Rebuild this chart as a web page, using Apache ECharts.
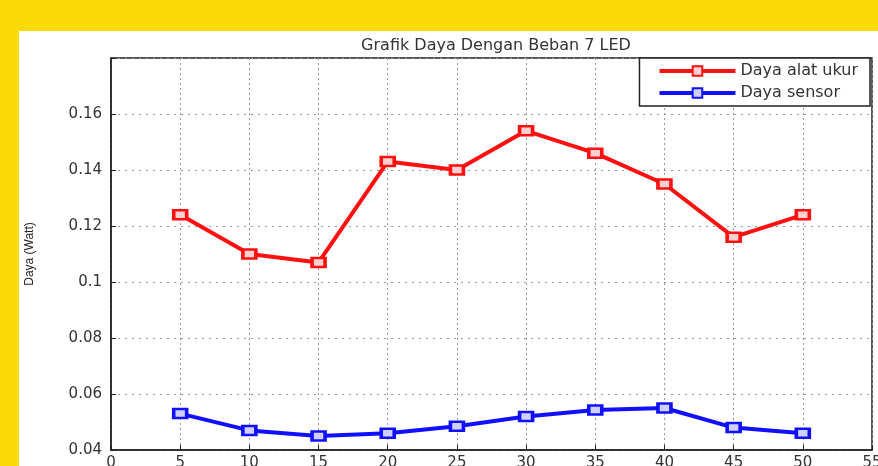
<!DOCTYPE html>
<html>
<head>
    <meta charset="utf-8">
    <title>Grafik Daya Dengan Beban 7 LED</title>
    <style>
        html, body { margin: 0; padding: 0; background: #F9D906; }
        #chart { width: 878px; height: 466px; }
    </style>
</head>
<body>
    <script src="https://cdn.jsdelivr.net/npm/echarts@6/dist/echarts.min.js"></script>
    <div id="chart"></div>
    <script>
        // data
        const xVals = [5, 10, 15, 20, 25, 30, 35, 40, 45, 50];
        const dayaAlatUkur = [0.124, 0.110, 0.107, 0.143, 0.140, 0.154, 0.146, 0.135, 0.116, 0.124];
        const dayaSensor = [0.053, 0.047, 0.045, 0.046, 0.0485, 0.052, 0.0543, 0.055, 0.048, 0.046];

        const chart = echarts.init(document.getElementById('chart'));
        const font = 'DejaVu Sans, Verdana, sans-serif';
        const pairs = arr => xVals.map((x, i) => [x, arr[i]]);

        chart.setOption({
            backgroundColor: '#F9D906',
            animation: false,
            graphic: [{
                type: 'rect', z: -10,
                shape: { x: 19, y: 31, width: 880, height: 460 },
                style: { fill: '#fff' }
            }],
            title: {
                text: 'Grafik Daya Dengan Beban 7 LED',
                left: 491, top: 33, textAlign: 'center',
                textStyle: { fontFamily: font, fontSize: 16, fontWeight: 'normal', color: '#333' }
            },
            legend: {
                right: 8, top: 58, orient: 'vertical',
                itemGap: 6, itemWidth: 76, itemHeight: 12,
                padding: [5, 12, 5, 18],
                borderColor: '#222', borderWidth: 1.5, backgroundColor: '#fff',
                lineStyle: { width: 4 },
                textStyle: { fontFamily: font, fontSize: 16, color: '#333' },
                data: ['Daya alat ukur', 'Daya sensor']
            },
            grid: {
                left: 111, right: 6, top: 58, bottom: 16,
                outerBoundsMode: 'none', containLabel: false,
                show: true, borderColor: '#222', borderWidth: 1.5, backgroundColor: 'transparent'
            },
            xAxis: {
                type: 'value', min: 0, max: 55, interval: 5,
                axisLine: { lineStyle: { color: '#222', width: 1.5 } },
                axisTick: { inside: true, length: 5, lineStyle: { color: '#222' } },
                axisLabel: { fontFamily: font, fontSize: 15, color: '#333', margin: 6 },
                splitLine: { show: true, lineStyle: { color: '#999', type: [2, 3] } }
            },
            yAxis: {
                type: 'value', min: 0.04, max: 0.18, interval: 0.02,
                name: 'Daya (Watt)', nameLocation: 'middle', nameGap: 75,
                nameTextStyle: { fontFamily: 'Liberation Sans Narrow, Liberation Sans, sans-serif', fontSize: 12, color: '#222' },
                axisLine: { lineStyle: { color: '#222', width: 1.5 } },
                axisTick: { inside: true, length: 5, lineStyle: { color: '#222' } },
                axisLabel: {
                    fontFamily: font, fontSize: 15, color: '#333', margin: 9,
                    formatter: v => Math.abs(v - 0.18) < 1e-9 ? '' : +v.toFixed(2) + ''
                },
                splitLine: { show: true, lineStyle: { color: '#999', type: [2, 5] } }
            },
            series: [{
                name: 'Daya alat ukur', type: 'line', data: pairs(dayaAlatUkur),
                symbol: 'rect', symbolSize: [13, 9],
                lineStyle: { color: '#ff1010', width: 4 },
                itemStyle: { color: '#ffd0d0', borderColor: '#ff1010', borderWidth: 3 }
            }, {
                name: 'Daya sensor', type: 'line', data: pairs(dayaSensor),
                symbol: 'rect', symbolSize: [13, 9],
                lineStyle: { color: '#1010ff', width: 4 },
                itemStyle: { color: '#d0d0ff', borderColor: '#1010ff', borderWidth: 3 }
            }]
        });
    </script>
</body>
</html>
